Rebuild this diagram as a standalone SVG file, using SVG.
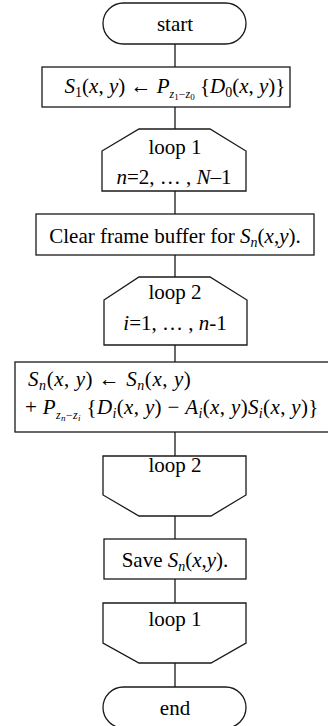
<svg xmlns="http://www.w3.org/2000/svg" width="328" height="726" viewBox="0 0 328 726">
<style>
.sh{fill:#fff;stroke:#1a1a1a;stroke-width:1.3}
.cn line{stroke:#1a1a1a;stroke-width:1.3}
text{font-family:"Liberation Serif","Times New Roman",serif;font-size:21px;fill:#000}
.c{text-anchor:middle}
.i{font-style:italic}
.s{font-size:14px}
.ss{font-size:12px}
.sss{font-size:9px}
</style>
<rect width="328" height="726" fill="#fff"/>
<g class="cn" id="connectors">
<line x1="175" y1="44" x2="175" y2="67"/>
<line x1="175" y1="107" x2="175" y2="129"/>
<line x1="175" y1="191" x2="175" y2="214"/>
<line x1="175" y1="255" x2="175" y2="277"/>
<line x1="175" y1="345" x2="175" y2="362"/>
<line x1="175" y1="432" x2="175" y2="456"/>
<line x1="175" y1="516" x2="175" y2="539"/>
<line x1="175" y1="579" x2="175" y2="603"/>
<line x1="175" y1="663" x2="175" y2="687"/>
</g>
<g id="start">
<rect class="sh" x="103" y="3" width="143" height="41" rx="20.5"/>
<text class="c" x="175" y="31">start</text>
</g>
<g id="init">
<rect class="sh" x="42" y="67" width="248" height="40"/>
<text class="c" x="175" y="93"><tspan class="i">S</tspan><tspan class="s" dy="4">1</tspan><tspan dy="-4">(</tspan><tspan class="i">x</tspan>, <tspan class="i">y</tspan>) ← <tspan class="i">P</tspan><tspan class="i ss" dy="5">z</tspan><tspan class="sss" dy="2">1</tspan><tspan class="ss" dy="-2">−</tspan><tspan class="i ss">z</tspan><tspan class="sss" dy="2">0</tspan><tspan dy="-7"> {</tspan><tspan class="i">D</tspan><tspan class="s" dy="4">0</tspan><tspan dy="-4">(</tspan><tspan class="i">x</tspan>, <tspan class="i">y</tspan>)}</text>
</g>
<g id="loop1start">
<polygon class="sh" points="102,151 139,129 210,129 246,151 246,191 102,191"/>
<text class="c" x="175" y="154">loop 1</text>
<text class="c" x="174" y="184"><tspan class="i">n</tspan>=2, … , <tspan class="i">N</tspan>–1</text>
</g>
<g id="clear">
<rect class="sh" x="36" y="214" width="278" height="41"/>
<text class="c" x="175" y="243">Clear frame buffer for <tspan class="i">S</tspan><tspan class="s i" dy="4">n</tspan><tspan dy="-4">(</tspan><tspan class="i">x</tspan>,<tspan class="i">y</tspan>).</text>
</g>
<g id="loop2start">
<polygon class="sh" points="104,300 139,277 210,277 247,300 247,345 104,345"/>
<text class="c" x="175" y="299">loop 2</text>
<text class="c" x="175" y="330"><tspan class="i">i</tspan>=1, … , <tspan class="i">n</tspan>-1</text>
</g>
<g id="update">
<rect class="sh" x="15" y="362" width="330" height="70"/>
<text x="28" y="386" letter-spacing="0.55"><tspan class="i">S</tspan><tspan class="s i" dy="4">n</tspan><tspan dy="-4">(</tspan><tspan class="i">x</tspan>, <tspan class="i">y</tspan>) ← <tspan class="i">S</tspan><tspan class="s i" dy="4">n</tspan><tspan dy="-4">(</tspan><tspan class="i">x</tspan>, <tspan class="i">y</tspan>)</text>
<text x="25" y="414" letter-spacing="0.35"><tspan>+ </tspan><tspan class="i">P</tspan><tspan class="i ss" dy="5">z</tspan><tspan class="sss i" dy="2">n</tspan><tspan class="ss" dy="-2">−</tspan><tspan class="i ss">z</tspan><tspan class="sss i" dy="2">i</tspan><tspan dy="-7"> {</tspan><tspan class="i">D</tspan><tspan class="s i" dy="4">i</tspan><tspan dy="-4">(</tspan><tspan class="i">x</tspan>, <tspan class="i">y</tspan>) − <tspan class="i">A</tspan><tspan class="s i" dy="4">i</tspan><tspan dy="-4">(</tspan><tspan class="i">x</tspan>, <tspan class="i">y</tspan>)<tspan class="i">S</tspan><tspan class="s i" dy="4">i</tspan><tspan dy="-4">(</tspan><tspan class="i">x</tspan>, <tspan class="i">y</tspan>)}</text>
</g>
<g id="loop2end">
<polygon class="sh" points="103,456 246,456 246,495 211,516 139,516 103,495"/>
<text class="c" x="175" y="472">loop 2</text>
</g>
<g id="save">
<rect class="sh" x="104" y="539" width="142" height="40"/>
<text class="c" x="175" y="567">Save <tspan class="i">S</tspan><tspan class="s i" dy="4">n</tspan><tspan dy="-4">(</tspan><tspan class="i">x</tspan>,<tspan class="i">y</tspan>).</text>
</g>
<g id="loop1end">
<polygon class="sh" points="103,603 246,603 246,643 211,663 139,663 103,643"/>
<text class="c" x="175" y="626">loop 1</text>
</g>
<g id="end">
<rect class="sh" x="103" y="687" width="143" height="41" rx="20.5"/>
<text class="c" x="175" y="715">end</text>
</g>
</svg>
